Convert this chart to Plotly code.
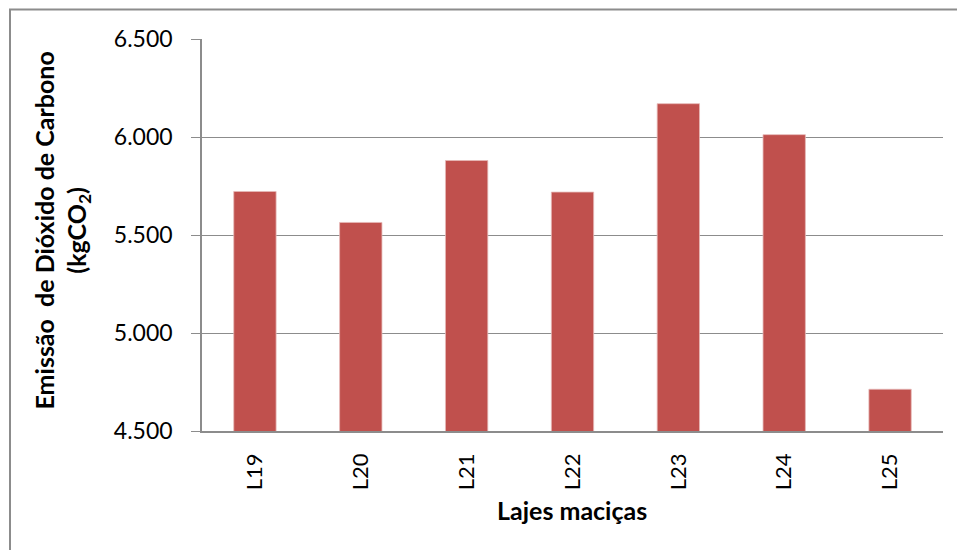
import plotly.graph_objects as go

# Dados: emissão de CO2 por laje maciça
categorias = ["L19", "L20", "L21", "L22", "L23", "L24", "L25"]
emissoes = [5722, 5564, 5880, 5719, 6170, 6012, 4713]

W, H = 957, 550
L, R, T, B = 202, 14, 39, 119
pw, ph = W - L - R, H - T - B


def px_x(p):
    return (p - L) / pw


def px_y(p):
    return (H - B - p) / ph


FONT = "Lato"

fig = go.Figure(
    go.Bar(
        x=categorias,
        y=emissoes,
        marker=dict(color="#C0504D", line=dict(color="#E6B9B8", width=0.8)),
        width=0.4,
    )
)

fig.update_layout(
    width=W,
    height=H,
    margin=dict(l=L, r=R, t=T, b=B),
    paper_bgcolor="white",
    plot_bgcolor="white",
    separators=",.",
    showlegend=False,
    font=dict(family=FONT, size=22, color="black"),
)

fig.update_yaxes(
    range=[4500, 6500],
    dtick=500,
    tickformat=",d",
    tickfont=dict(family=FONT, size=23, color="black"),
    showgrid=True,
    gridcolor="#8c8c8c",
    gridwidth=1,
    showline=True,
    linecolor="#8c8c8c",
    linewidth=1.5,
    ticks="outside",
    ticklen=9,
    tickcolor="#8c8c8c",
    ticklabelstandoff=14,
    zeroline=False,
)

fig.update_xaxes(
    showline=True,
    linecolor="#8c8c8c",
    linewidth=1.5,
    tickangle=-90,
    ticks="",
    ticklabelstandoff=12,
    tickfont=dict(family=FONT, size=22, color="black"),
    showgrid=False,
)

# Título do eixo Y (duas linhas, vertical)
fig.add_annotation(
    text="<b>Emissão  de Dióxido de Carbono<br>(kgCO<sub>2</sub>)</b>",
    xref="paper", yref="paper",
    x=px_x(61.5), y=px_y(231),
    xanchor="center", yanchor="middle",
    textangle=-90,
    showarrow=False,
    font=dict(family=FONT, size=25, color="black"),
)

# Título do eixo X
fig.add_annotation(
    text="<b>Lajes maciças</b>",
    xref="paper", yref="paper",
    x=px_x(571.5), y=px_y(510),
    xanchor="center", yanchor="middle",
    showarrow=False,
    font=dict(family=FONT, size=25, color="black"),
)

# Moldura da área do gráfico
fig.add_shape(
    type="rect",
    xref="paper", yref="paper",
    x0=px_x(10), x1=px_x(980),
    y0=px_y(580), y1=px_y(9.5),
    line=dict(color="#8c8c8c", width=2),
    fillcolor="rgba(0,0,0,0)",
    layer="below",
)

fig.write_html("out.html")
